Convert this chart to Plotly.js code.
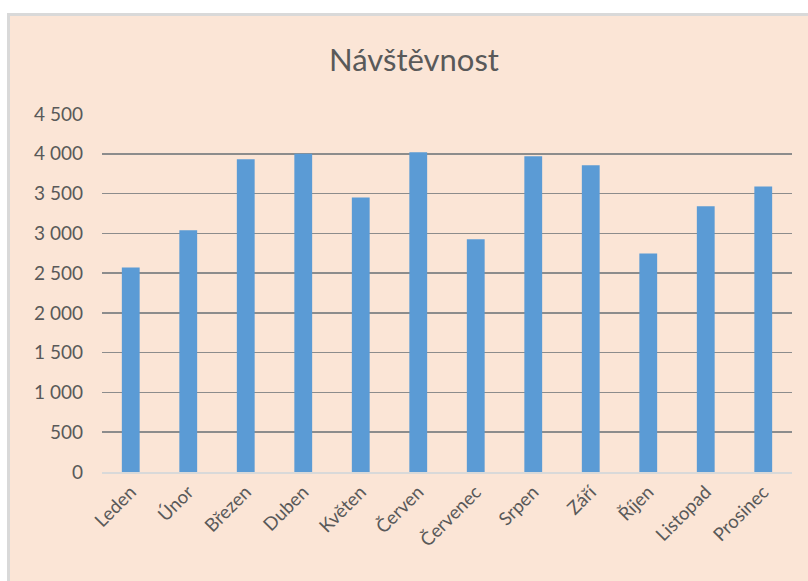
<!DOCTYPE html>
<html>
<head>
<meta charset="utf-8">
<script src="https://cdn.plot.ly/plotly-3.0.1.min.js"></script>
<style>html,body{margin:0;padding:0;background:#fff;}#chart{width:808px;height:581px;}</style>
</head>
<body>
<div id="chart"></div>
<script>
const months = ["Leden","Únor","Březen","Duben","Květen","Červen","Červenec","Srpen","Září","Říjen","Listopad","Prosinec"];
const visits = [2570, 3040, 3930, 4000, 3450, 4020, 2925, 3970, 3855, 2745, 3340, 3590];
const yTicks = [0, 500, 1000, 1500, 2000, 2500, 3000, 3500, 4000, 4500];
const chartTitle = "Návštěvnost";

const peach = "#FBE5D6";
const fontFam = "Lato, 'Open Sans', sans-serif";
const L = 102, R = 16, T = 114, B = 109;
const W = 808, H = 581;
const pw = W - L - R, ph = H - T - B;
const px = x => (x - L) / pw;
const py = y => (H - B - y) / ph;

const trace = {
  type: "bar",
  x: months,
  y: visits,
  marker: {color: "#5B9BD5"},
  hoverinfo: "x+y"
};

const layout = {
  width: W, height: H,
  margin: {l: L, r: R, t: T, b: B},
  paper_bgcolor: peach,
  plot_bgcolor: peach,
  separators: ", ",
  bargap: 0.69,
  showlegend: false,
  title: {
    text: chartTitle,
    font: {family: fontFam, size: 31, color: "#595959"},
    xref: "container", x: 414 / W, xanchor: "center",
    yref: "container", y: 1 - 60 / H, yanchor: "middle"
  },
  xaxis: {
    tickangle: -45,
    tickfont: {family: fontFam, size: 18.5, color: "#595959"},
    showgrid: false,
    showline: true, linecolor: "#D9D9D9", linewidth: 2,
    ticks: "", fixedrange: true
  },
  yaxis: {
    range: [0, 4500],
    tickvals: yTicks,
    tickformat: ",d",
    tickfont: {family: fontFam, size: 19, color: "#595959"},
    showgrid: true, gridcolor: "#8C8C8C", gridwidth: 1.5,
    zeroline: false, showline: false, ticks: "",
    ticklabelstandoff: 18, fixedrange: true
  },
  shapes: [
    {type: "rect", xref: "paper", yref: "paper", x0: px(-5), x1: px(W + 5), y0: py(13), y1: py(-5), fillcolor: "#FFFFFF", line: {width: 0}, layer: "below"},
    {type: "rect", xref: "paper", yref: "paper", x0: px(-5), x1: px(7), y0: py(H + 5), y1: py(-5), fillcolor: "#FFFFFF", line: {width: 0}, layer: "below"},
    {type: "rect", xref: "paper", yref: "paper", x0: px(7), x1: px(W + 5), y0: py(16), y1: py(13), fillcolor: "#D9D9D9", line: {width: 0}, layer: "below"},
    {type: "rect", xref: "paper", yref: "paper", x0: px(7), x1: px(10), y0: py(H + 5), y1: py(13), fillcolor: "#D9D9D9", line: {width: 0}, layer: "below"}
  ]
};

Plotly.newPlot("chart", [trace], layout, {displayModeBar: false, staticPlot: true});
</script>
</body>
</html>
